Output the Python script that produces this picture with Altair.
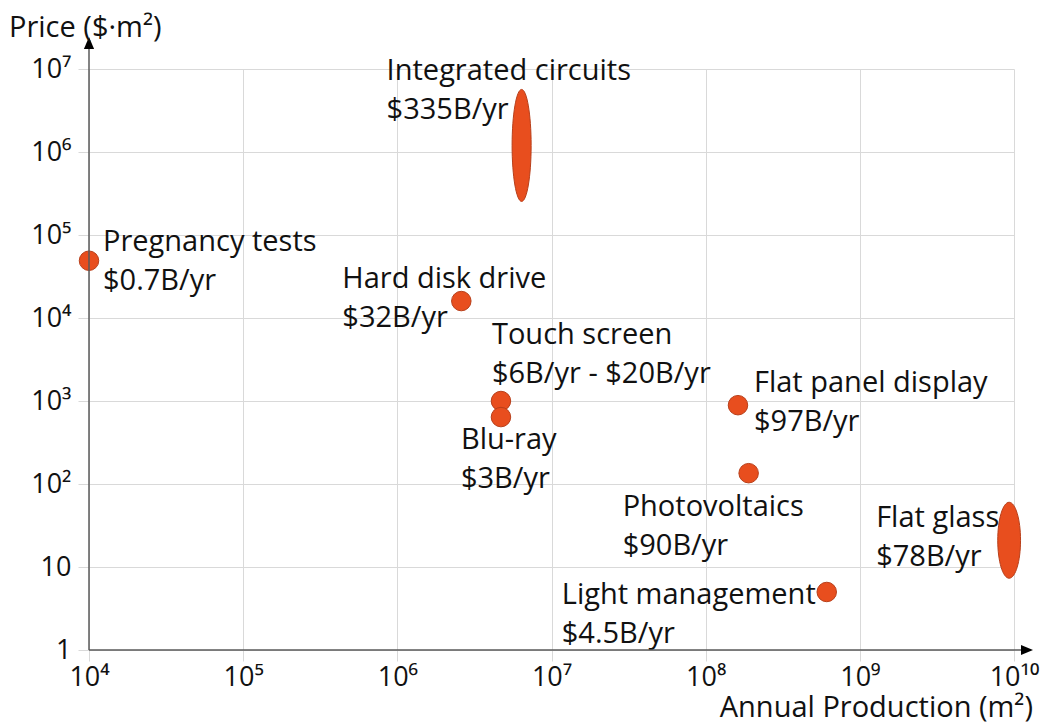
import altair as alt
import pandas as pd

# ---------------- data ----------------
names = ["Integrated circuits", "Pregnancy tests", "Hard disk drive", "Touch screen",
         "Blu-ray", "Flat panel display", "Photovoltaics", "Light management", "Flat glass"]
revenue = ["$335B/yr", "$0.7B/yr", "$32B/yr", "$6B/yr - $20B/yr", "$3B/yr",
           "$97B/yr", "$90B/yr", "$4.5B/yr", "$78B/yr"]
production = [6.4e6, 1.0e4, 2.6e6, 4.7e6, 4.7e6, 1.62e8, 1.9e8, 6.1e8, 9.3e9]   # m^2 / yr
price = [1.2e6, 4.9e4, 1.6e4, 1.0e3, 640, 890, 135, 5.0, 21]                    # $ per m^2

x_ticks = [1e4, 1e5, 1e6, 1e7, 1e8, 1e9, 1e10]
x_tick_labels = ["10⁴", "10⁵", "10⁶", "10⁷", "10⁸", "10⁹", "10¹⁰"]
y_ticks = [1, 10, 1e2, 1e3, 1e4, 1e5, 1e6, 1e7]
y_tick_labels = ["1", "10", "10²", "10³", "10⁴", "10⁵", "10⁶", "10⁷"]

df = pd.DataFrame({"name": names, "revenue": revenue, "production": production, "price": price})

# ---------------- style ----------------
FONT = "Open Sans"
FS = 29          # annotations and axis titles
FS_TICK = 27     # tick labels
ORANGE = "#E84E1E"
EDGE = "#B83F1A"
GRID = "#D9D9D9"
AXIS = "#5A5A5A"
W, H = 925, 581

label_offsets = {  # (dx, dy) of the label's left edge / first-line centre
    "Integrated circuits": (-135, -74),
    "Pregnancy tests": (14, -19),
    "Hard disk drive": (-119, -22),
    "Touch screen": (-9, -66),
    "Blu-ray": (-40, 23),
    "Flat panel display": (16, -22),
    "Photovoltaics": (-126, 34),
    "Light management": (-265, 3),
    "Flat glass": (-133, -22),
}
ellipse_shapes = {
    "Integrated circuits": ("M0,-1 A0.17,1 0 0 1 0,1 A0.17,1 0 0 1 0,-1 Z", 112 ** 2),
    "Flat glass": ("M0,-1 A0.30,1 0 0 1 0,1 A0.30,1 0 0 1 0,-1 Z", 76 ** 2),
}

x_expr = "[" + ",".join(f"'{t}'" for t in x_tick_labels) + "][round(log(datum.value)/LN10) - 4]"
y_expr = "[" + ",".join(f"'{t}'" for t in y_tick_labels) + "][round(log(datum.value)/LN10)]"

xenc = alt.X("production:Q",
             scale=alt.Scale(type="log", domain=[1e4, 1e10], nice=False),
             axis=alt.Axis(values=x_ticks, labelExpr=x_expr, title=None, grid=True,
                           labelPadding=3, labelFlush=False, labelOverlap=False))
yenc = alt.Y("price:Q",
             scale=alt.Scale(type="log", domain=[1, 1e7], nice=False),
             axis=alt.Axis(values=y_ticks, labelExpr=y_expr, title=None, grid=True,
                           labelPadding=7, labelOverlap=False))

base = alt.Chart(df).encode(x=xenc, y=yenc)

circles = base.transform_filter(
    ~alt.FieldOneOfPredicate(field="name", oneOf=list(ellipse_shapes))
).mark_point(filled=True, shape="circle", size=380, color=ORANGE, opacity=1,
             stroke=EDGE, strokeWidth=1)

layers = [circles]
for n, (path, size) in ellipse_shapes.items():
    layers.append(base.transform_filter(alt.datum.name == n).mark_point(
        filled=True, shape=path, size=size, color=ORANGE, opacity=1,
        stroke=EDGE, strokeWidth=1))

for n, (dx, dy) in label_offsets.items():
    layers.append(
        base.transform_filter(alt.datum.name == n)
        .transform_calculate(label="datum.name + '\\n' + datum.revenue")
        .mark_text(align="left", baseline="middle", dx=dx, dy=dy, lineBreak="\n",
                   lineHeight=39, font=FONT, fontSize=FS, color="#111111")
        .encode(text="label:N")
    )

one = pd.DataFrame({"k": [0]})
x_axis_line = alt.Chart(one).mark_rule(color=AXIS, strokeWidth=1.5).encode(
    x=alt.value(0), x2=alt.value(934), y=alt.value(H))
y_axis_line = alt.Chart(one).mark_rule(color=AXIS, strokeWidth=1.5).encode(
    x=alt.value(0), y=alt.value(H), y2=alt.value(-22))
x_arrow = alt.Chart(one).mark_point(filled=True, shape="M-1,-0.85 L1,0 L-1,0.85 Z", size=144,
                                    color="#000000", opacity=1).encode(
    x=alt.value(938), y=alt.value(H))
y_arrow = alt.Chart(one).mark_point(filled=True, shape="M-0.85,1 L0,-1 L0.85,1 Z", size=144,
                                    color="#000000", opacity=1).encode(
    x=alt.value(0), y=alt.value(-26))
y_title = alt.Chart(one).mark_text(align="left", baseline="middle", font=FONT, fontSize=FS,
                                   color="#111111").encode(
    x=alt.value(-80), y=alt.value(-41), text=alt.value("Price ($·m²)"))
x_title = alt.Chart(one).mark_text(align="right", baseline="middle", font=FONT, fontSize=FS,
                                   color="#111111").encode(
    x=alt.value(944), y=alt.value(639), text=alt.value("Annual Production (m²)"))

chart = alt.layer(*layers, x_axis_line, y_axis_line, x_arrow, y_arrow, y_title, x_title).properties(
    width=W, height=H,
    autosize=alt.AutoSizeParams(type="none"),
    padding={"left": 81, "top": 61, "right": 28, "bottom": 73},
).configure_view(stroke=None).configure_axis(
    domain=False, gridColor=GRID, gridWidth=1, tickColor=GRID, tickSize=11, tickWidth=1,
    labelFont=FONT, labelFontSize=FS_TICK, labelColor="#111111",
)

chart.save("out.html", embed_options={"renderer": "svg", "actions": False})
